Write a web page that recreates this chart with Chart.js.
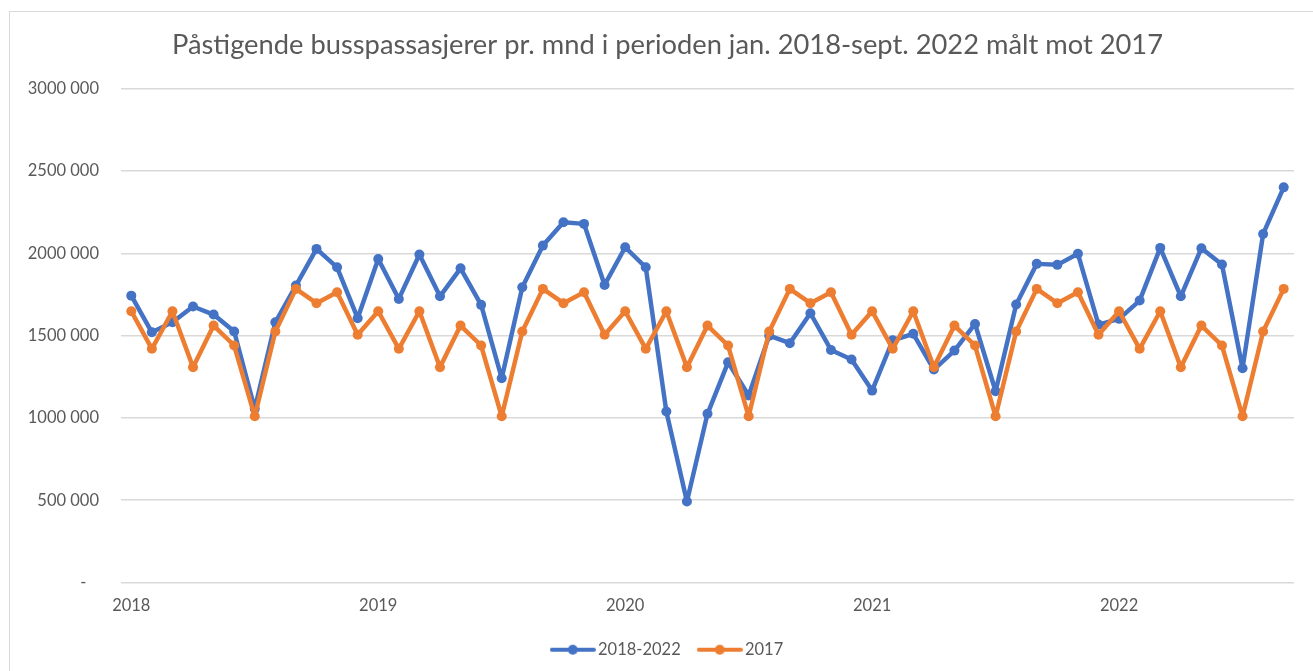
<!DOCTYPE html>
<html>
<head>
<meta charset="utf-8">
<script src="https://cdn.jsdelivr.net/npm/chart.js@4"></script>
<style>
  html, body { margin: 0; padding: 0; background: #fff; overflow: hidden; }
  #frame { position: absolute; left: 9px; top: 11px; width: 1330px; height: 700px; border: 1px solid #d9d9d9; }
  #wrap { position: absolute; left: 0; top: 0; width: 1313px; height: 671px; }
</style>
</head>
<body>
<div id="frame"></div>
<div id="wrap"><canvas id="busChart"></canvas></div>
<script>
// months jan. 2018 - sept. 2022
const years = ["2018", "2019", "2020", "2021", "2022"];
const months = ["jan", "feb", "mar", "apr", "mai", "jun", "jul", "aug", "sep", "okt", "nov", "des"];
const categories = [];
years.forEach(y => months.forEach(m => categories.push(m + " " + y)));
categories.length = 57;

const passengers2018_2022 = [
  1743000, 1520000, 1581000, 1677000, 1628000, 1525000, 1055000, 1581000, 1804000, 2027000, 1915000, 1606000,
  1966000, 1723000, 1993000, 1739000, 1909000, 1687000, 1241000, 1794000, 2047000, 2189000, 2179000, 1808000,
  2037000, 1915000, 1039000, 492000, 1025000, 1338000, 1136000, 1500000, 1454000, 1636000, 1413000, 1355000,
  1166000, 1472000, 1511000, 1294000, 1409000, 1571000, 1162000, 1689000, 1936000, 1930000, 1997000, 1567000,
  1602000, 1713000, 2033000, 1739000, 2031000, 1932000, 1302000, 2118000, 2401000
];

// 2017 level, same month
const passengers2017 = [
  1648000, 1420000, 1648000, 1308000, 1561000, 1440000, 1010000, 1525000, 1784000, 1697000, 1764000, 1505000,
  1648000, 1420000, 1648000, 1308000, 1561000, 1440000, 1010000, 1525000, 1784000, 1697000, 1764000, 1505000,
  1648000, 1420000, 1648000, 1308000, 1561000, 1440000, 1010000, 1525000, 1784000, 1697000, 1764000, 1505000,
  1648000, 1420000, 1648000, 1308000, 1561000, 1440000, 1010000, 1525000, 1784000, 1697000, 1764000, 1505000,
  1648000, 1420000, 1648000, 1308000, 1561000, 1440000, 1010000, 1525000, 1784000
];

const yTicks = [0, 500000, 1000000, 1500000, 2000000, 2500000, 3000000];

const BLUE = "#4472C4";
const ORANGE = "#ED7D31";
const TEXT = "#595959";
const FONT = "Lato, 'Open Sans', sans-serif";

// legend marker: line with a dot
const legendMarker = (color) => {
  const c = document.createElement("canvas");
  c.width = 46; c.height = 12;
  const g = c.getContext("2d");
  g.strokeStyle = color; g.lineWidth = 4; g.lineCap = "round";
  g.beginPath(); g.moveTo(2, 6); g.lineTo(44, 6); g.stroke();
  g.fillStyle = color;
  g.beginPath(); g.arc(23, 6, 5, 0, Math.PI * 2); g.fill();
  return c;
};

const fmt = (v) => {
  if (v === 0) return "-   ";
  const th = Math.floor(v / 1000);
  return th + " 000";
};

// centre title and legend on the frame rather than the canvas
const centreBlocks = {
  id: "centreBlocks",
  afterLayout(chart) {
    if (chart.titleBlock) chart.titleBlock.left += 41;
    if (chart.legend) chart.legend.left += 45;
  },
};

const lineStyle = (color) => ({
  borderColor: color,
  backgroundColor: color,
  pointBackgroundColor: color,
  borderWidth: 4.5,
  borderJoinStyle: "round",
  borderCapStyle: "round",
  pointRadius: 5,
  pointBorderWidth: 0,
  tension: 0,
});

new Chart(document.getElementById("busChart"), {
  type: "line",
  data: {
    labels: categories,
    datasets: [
      { label: "2018-2022", data: passengers2018_2022, ...lineStyle(BLUE), order: 1 },
      { label: "2017", data: passengers2017, ...lineStyle(ORANGE), order: 0 },
    ],
  },
  plugins: [centreBlocks],
  options: {
    responsive: true,
    maintainAspectRatio: false,
    animation: false,
    layout: { padding: { left: 0, right: 19, top: 0, bottom: 3 } },
    plugins: {
      title: {
        display: true,
        text: "Påstigende busspassasjerer pr. mnd i perioden jan. 2018-sept. 2022 målt mot 2017",
        color: TEXT,
        font: { family: FONT, size: 27.3, weight: "normal" },
        padding: { top: 29, bottom: 27 },
      },
      legend: {
        position: "bottom",
        labels: {
          color: TEXT,
          font: { family: FONT, size: 16.5 },
          usePointStyle: true,
          pointStyleWidth: 34,
          boxHeight: 10,
          padding: 22,
          sort: (a, b) => a.datasetIndex - b.datasetIndex,
          generateLabels: (chart) =>
            chart.data.datasets.map((ds, i) => ({
              text: ds.label,
              fontColor: TEXT,
              pointStyle: legendMarker(ds.borderColor),
              datasetIndex: i,
              hidden: false,
              lineWidth: 0,
            })),
        },
      },
      tooltip: { enabled: false },
    },
    scales: {
      x: {
        type: "category",
        offset: true,
        grid: { display: false, drawTicks: false },
        border: { display: false },
        afterFit: (scale) => { scale.height = 37; },
        ticks: {
          autoSkip: false,
          maxRotation: 0,
          padding: 13,
          color: TEXT,
          font: { family: FONT, size: 16.5 },
          callback: function (val, idx) {
            return idx % 12 === 0 ? this.getLabelForValue(val).split(" ")[1] : "";
          },
        },
      },
      y: {
        min: yTicks[0],
        max: yTicks[yTicks.length - 1],
        afterBuildTicks: (scale) => { scale.ticks = yTicks.map(v => ({ value: v })); },
        afterFit: (scale) => { scale.width = 121; },
        grid: { color: "#d9d9d9", lineWidth: 1.5, drawTicks: false },
        border: { display: false },
        ticks: {
          padding: 22,
          color: TEXT,
          font: { family: FONT, size: 16.5 },
          callback: (v) => fmt(v),
        },
      },
    },
  },
});
</script>
</body>
</html>
